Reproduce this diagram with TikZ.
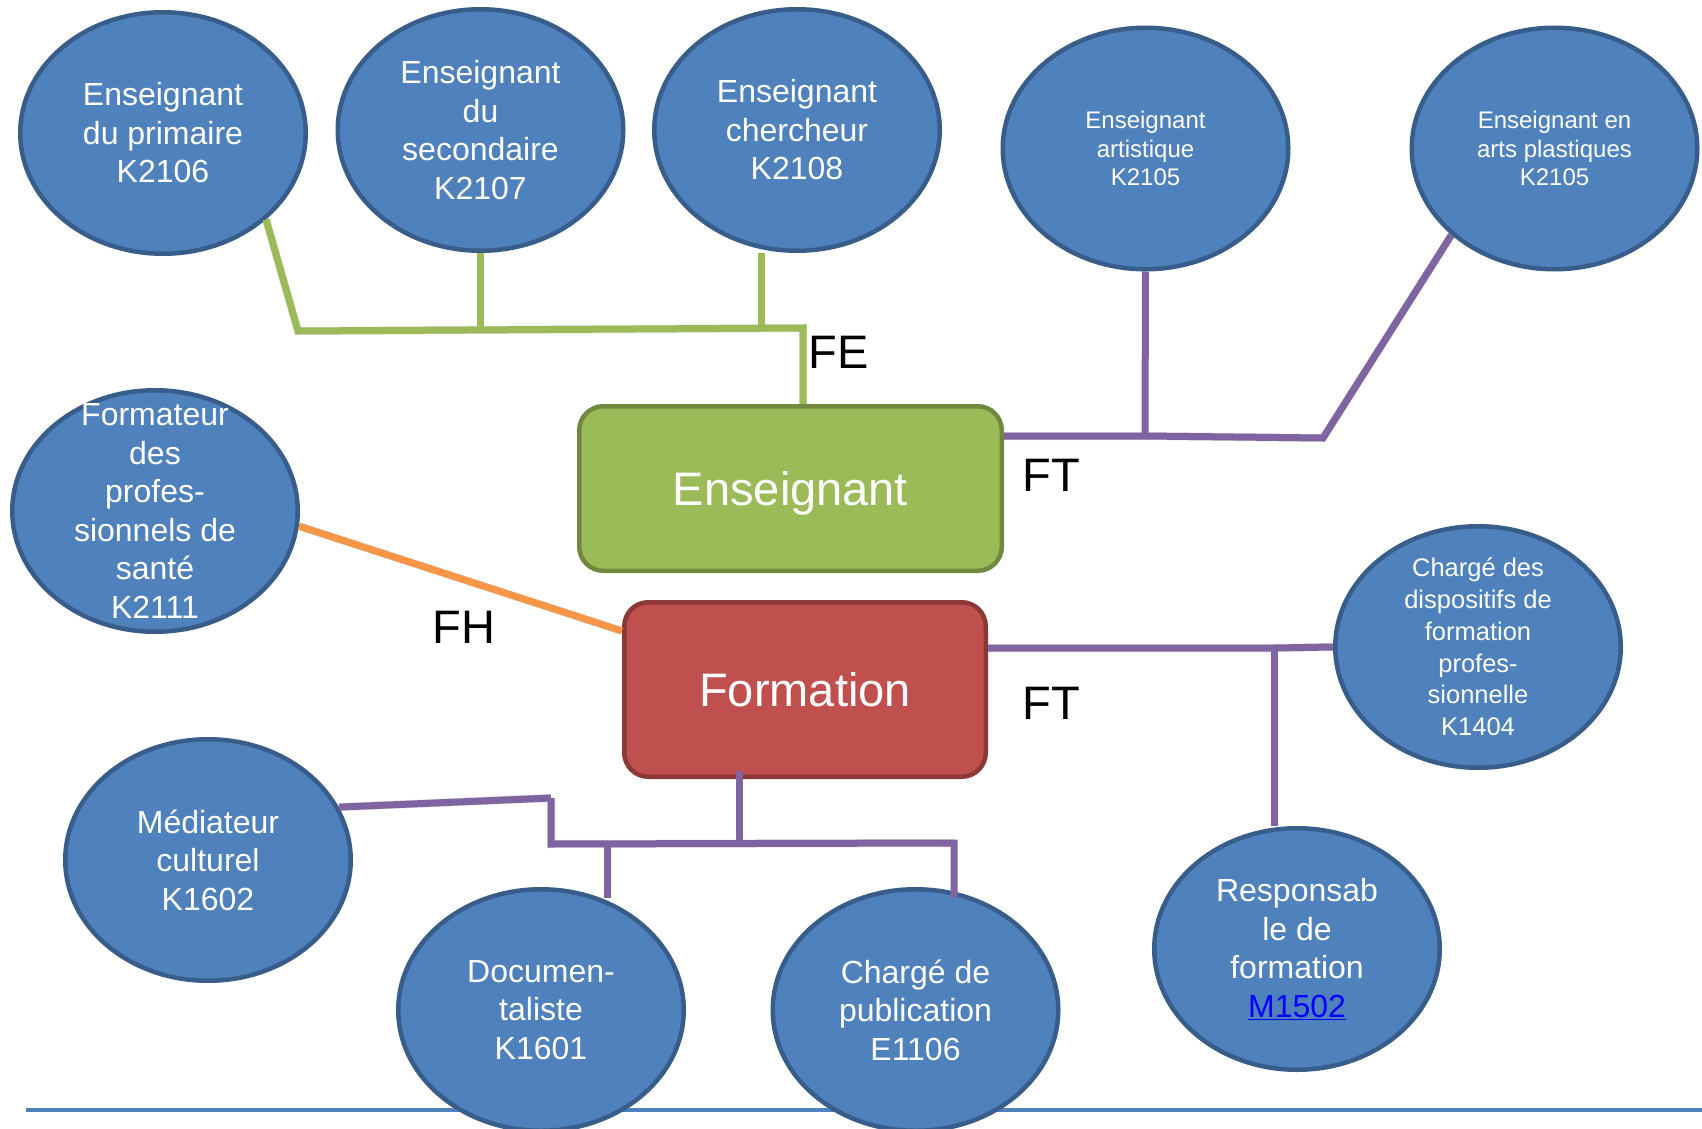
\documentclass[tikz,border=0pt]{standalone}
\usepackage{fontspec}
\setmainfont{Liberation Sans}
\usetikzlibrary{calc,shapes.geometric}
\definecolor{ellfill}{HTML}{4F81BD}
\definecolor{elldraw}{HTML}{385D8A}
\definecolor{grnfill}{HTML}{9BBB59}
\definecolor{grndraw}{HTML}{71893F}
\definecolor{redfill}{HTML}{C0504D}
\definecolor{reddraw}{HTML}{8C3836}
\definecolor{purp}{HTML}{8064A2}
\definecolor{orng}{HTML}{F79646}
\definecolor{linkblue}{HTML}{0000FF}
\begin{document}
\begin{tikzpicture}[x=1pt,y=-1pt,
  ell/.style={ellipse, draw=elldraw, fill=ellfill, line width=4.5pt,
    minimum width=285.5pt, minimum height=241.5pt, inner sep=0pt},
  etxt/.style={text=white, align=center, inner sep=0pt},
  bigtxt/.style={etxt, font=\fontsize{32}{38.5}\selectfont},
  smalltxt/.style={etxt, font=\fontsize{24}{28.5}\selectfont},
  midtxt/.style={etxt, font=\fontsize{25.5}{31.8}\selectfont},
  boxshape/.style={rectangle, rounded corners=24pt, line width=4.5pt,
    text=white, font=\fontsize{47}{56}\selectfont,
    text height=33.6pt, text depth=0pt, inner sep=0pt},
  lbl/.style={font=\fontsize{47}{56}\selectfont, text height=33.6pt,
    text depth=0pt, inner sep=0pt},
  shad/.style={draw=black, draw opacity=0.12, line width=8pt, shift={(1.5pt,-3pt)}},
  gline/.style={draw=grnfill, line width=7pt},
  pline/.style={draw=purp, line width=7pt},
  oline/.style={draw=orng, line width=7pt}]
\useasboundingbox (0,0) rectangle (1702,1129);
\fill[white] (0,0) rectangle (1702,1129);
\clip (0,0) rectangle (1702,1129);

% bottom rule
\coordinate (bl1) at (26,1110);
\coordinate (bl2) at (1702,1110);
\draw[line width=4pt, color=ellfill] (bl1) -- (bl2);

% ellipses
\node[ell] (e1) at (163,133) {};
\node[ell] (e2) at (480.5,130) {};
\node[ell] (e3) at (797,130) {};
\node[ell] (e4) at (1145.5,148.5) {};
\node[ell] (e5) at (1554.5,148.5) {};
\node[ell] (e6) at (155,511) {};
\node[ell] (e7) at (1478,647) {};
\node[ell] (e8) at (208,860) {};
\node[ell] (e9) at (541,1010) {};
\node[ell] (e10) at (915.5,1010) {};
\node[ell] (e11) at (1297,949) {};

% boxes
\node[boxshape, fill=grnfill, draw=grndraw, minimum width=422.5pt, minimum height=164.5pt] (ens) at (790.5,488.5) {Enseignant};
\node[boxshape, fill=redfill, draw=reddraw, minimum width=361.5pt, minimum height=174.5pt] (frm) at (805,689.5) {Formation};

% junction coordinates
\coordinate (gA) at (298,331);
\coordinate (gB) at (803,328);
\coordinate (gv3) at (761,328);
\coordinate (pJ) at (1145,436);
\coordinate (pB) at (1323,438);
\coordinate (qJ) at (1274,648);
\coordinate (bF) at (739,844);
\coordinate (bL) at (551,844);
\coordinate (bR) at (954,843);
\coordinate (bD) at (607,844);
\coordinate (bM) at (551,798);

% soft shadows under the connectors
\draw[shad] (e1.-40) -- (gA) -- (gB) -- (gB |- ens.north);
\draw[shad] (ens.east |- pJ) -- (pJ) -- (pB) -- (e5.-140);
\draw[shad] (e6.-6) -- ($(frm.west)+(0,-58.5)$);
\draw[shad] (frm.east |- qJ) -- (qJ) -- (e7.west);
\draw[shad] (bM) -- (bL) -- (bR);
\draw[shad] (e8.22) -- (bM);

% green connectors (FE)
\draw[gline] (e1.-40) -- (gA) -- (gB) -- (gB |- ens.north);
\draw[gline] (e2.south) -- (e2.south |- gA);
\draw[gline] (gv3 |- e3.south) -- (gv3);

% purple connectors top (FT)
\draw[pline] (ens.east |- pJ) -- (pJ) -- (pB) -- (e5.-140);
\draw[pline] (e4.south) -- (pJ);

% orange connector (FH)
\draw[oline] (e6.-6) -- ($(frm.west)+(0,-58.5)$);

% purple connectors right (FT)
\draw[pline] (frm.east |- qJ) -- (qJ) -- (e7.west);
\draw[pline] (qJ) -- (qJ |- e11.north);

% purple connectors bottom
\draw[pline] ($(frm.south -| bF)+(0,-8)$) -- (bF);
\draw[pline] (bM) -- (bL) -- (bR) -- ($(bR |- e10.north)+(0,11)$);
\draw[pline] (bD) -- ($(bD |- e9.north)+(0,11)$);
\draw[pline] (e8.22) -- (bM);

% texts in ellipses
\node[bigtxt] (t1) at (e1) {Enseignant\\du primaire\\K2106};
\node[bigtxt] (t2) at (e2) {Enseignant\\du\\secondaire\\K2107};
\node[bigtxt] (t3) at (e3) {Enseignant\\chercheur\\K2108};
\node[smalltxt] (t4) at (e4) {Enseignant\\artistique\\K2105};
\node[smalltxt] (t5) at (e5) {Enseignant en\\arts plastiques\\K2105};
\node[bigtxt] (t6) at (e6) {Formateur\\des\\profes-\\sionnels de\\santé\\K2111};
\node[midtxt] (t7) at (e7) {Chargé des\\dispositifs de\\formation\\profes-\\sionnelle\\K1404};
\node[bigtxt] (t8) at (e8) {Médiateur\\culturel\\K1602};
\node[bigtxt] (t9) at (e9) {Documen-\\taliste\\K1601};
\node[bigtxt] (t10) at (e10) {Chargé de\\publication\\E1106};
\node[bigtxt] (t11) at (e11) {Responsab\\le de\\formation\\{\color{linkblue}\underline{M1502}}};

% relation labels
\node[lbl] (fe) at (839,352) {FE};
\node[lbl] (ft1) at (1051,475) {FT};
\node[lbl] (fh) at (464,627) {FH};
\node[lbl] (ft2) at (1051,703) {FT};
\end{tikzpicture}
\end{document}
